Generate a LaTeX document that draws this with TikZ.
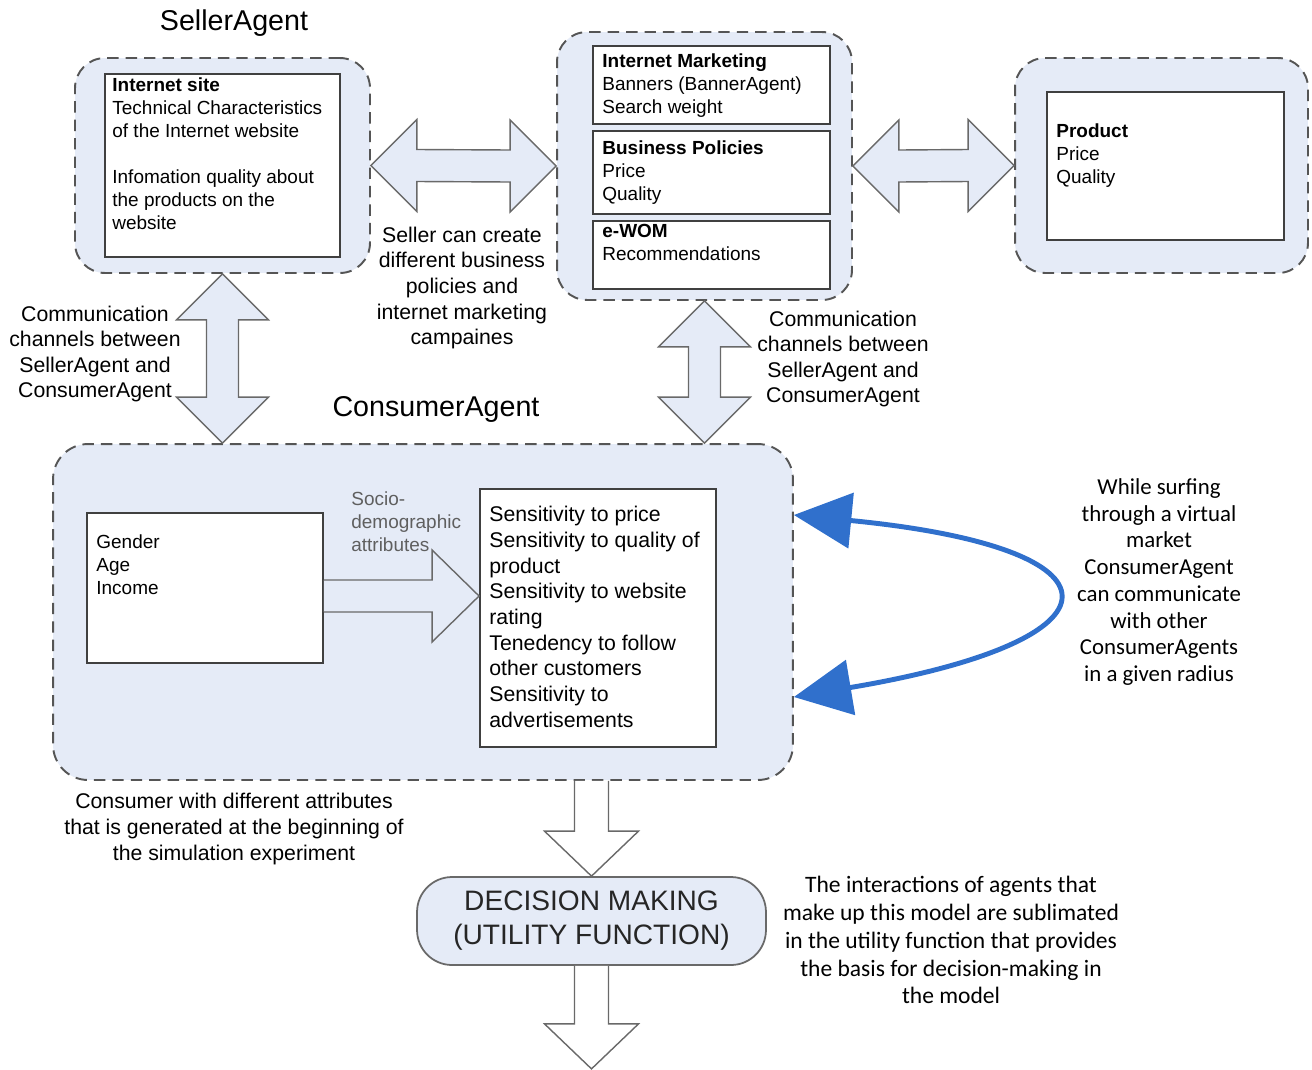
\documentclass[tikz,border=0pt]{standalone}
\usepackage{fontspec}
\setmainfont{Liberation Sans}
\newfontfamily\calibri{Carlito}
\usetikzlibrary{positioning,calc,arrows.meta}

\definecolor{paleblue}{RGB}{229,235,247}
\definecolor{boxgray}{RGB}{64,64,64}
\definecolor{dashgray}{RGB}{85,85,85}
\definecolor{arrowgray}{RGB}{105,105,105}
\definecolor{surfblue}{RGB}{48,112,204}
\definecolor{sociogray}{RGB}{95,95,95}

\tikzset{
  grp/.style={rectangle, rounded corners=0.6cm, draw=dashgray, line width=1.1pt, dash pattern=on 6.5pt off 4pt, fill=paleblue, inner sep=0pt},
  box/.style={rectangle, draw=boxgray, line width=1.1pt, fill=white, inner sep=0pt},
  txt/.style={inner sep=0pt, anchor=north west, align=left, font=\fontsize{10.8}{13.1}\selectfont},
  captxt/.style={inner sep=0pt, align=center, font=\fontsize{12.1}{14.6}\selectfont},
  ttl/.style={inner sep=0pt, font=\fontsize{16.3}{19}\selectfont},
  blk/.style={draw=arrowgray, line width=0.8pt, fill=paleblue, line join=miter},
  blkw/.style={blk, fill=white},
  dm/.style={rectangle, rounded corners=0.7cm, draw=arrowgray, line width=1pt, fill=paleblue, align=center, text=black!85, font=\fontsize{16}{19.4}\selectfont},
  note/.style={inner sep=0pt, align=center},
  surf/.style={draw=surfblue, line width=2.8pt, arrows={Triangle[length=1.15cm,width=1.1cm]-Triangle[length=1.15cm,width=1.1cm]}}
}

% double block arrows: tip to tip
\newcommand{\hdouble}[2]{\draw[blk] (#1) -- ($(#1)+(46,-46)$) -- ($(#1)+(46,-16)$) -- ($(#2)+(-46,-16)$) -- ($(#2)+(-46,-46)$) -- (#2) -- ($(#2)+(-46,46)$) -- ($(#2)+(-46,16)$) -- ($(#1)+(46,16)$) -- ($(#1)+(46,46)$) -- cycle;}
\newcommand{\vdouble}[2]{\draw[blk] (#1) -- ($(#1)+(46,46)$) -- ($(#1)+(16,46)$) -- ($(#2)+(16,-46)$) -- ($(#2)+(46,-46)$) -- (#2) -- ($(#2)+(-46,-46)$) -- ($(#2)+(-16,-46)$) -- ($(#1)+(-16,46)$) -- ($(#1)+(-46,46)$) -- cycle;}
% single block arrow down: tail centre, tip
\newcommand{\vsingle}[2]{\draw[blkw] ($(#1)+(-17,0)$) -- ($(#2)+(-17,-45)$) -- ($(#2)+(-47,-45)$) -- (#2) -- ($(#2)+(47,-45)$) -- ($(#2)+(17,-45)$) -- ($(#1)+(17,0)$);}

\begin{document}
\begin{tikzpicture}[x=0.02cm, y=-0.02cm]
	\useasboundingbox (0,0) rectangle (1312,1069);

	% SellerAgent
	\node[ttl] (sellerttl) at (234,23) {SellerAgent};
	\node[grp, minimum width=5.9cm, minimum height=4.3cm] (site) at (222.5,165.5) {};
	\node[box, minimum width=4.7cm, minimum height=3.66cm] (sitebox) at (site.center) {};
	\node[txt] (sitetxt) at ($(sitebox.north west)+(8,4)$) {\textbf{Internet site}\\Technical Characteristics\\of the Internet website\\[13.1pt]Infomation quality about\\the products on the\\website};

	\node[grp, minimum width=5.9cm, minimum height=5.36cm] (policy) at (704.5,166) {};
	\node[box, minimum width=4.74cm, minimum height=1.56cm] (mkt) at (711.5,85) {};
	\node[box, minimum width=4.74cm, minimum height=1.66cm, below=0.1cm of mkt] (biz) {};
	\node[box, minimum width=4.74cm, minimum height=1.36cm, below=0.1cm of biz] (wom) {};
	\node[txt] (mkttxt) at ($(mkt.north west)+(10,8)$) {\textbf{Internet Marketing}\\Banners (BannerAgent)\\Search weight};
	\node[txt] (biztxt) at ($(biz.north west)+(10,10)$) {\textbf{Business Policies}\\Price\\Quality};
	\node[txt] (womtxt) at ($(wom.north west)+(10,4)$) {\textbf{e-WOM}\\Recommendations};

	\node[grp, minimum width=5.86cm, minimum height=4.3cm] (prod) at (1161.5,165.5) {};
	\node[box, minimum width=4.74cm, minimum height=2.96cm] (prodbox) at (1165.5,166) {};
	\node[txt] (prodtxt) at ($(prodbox.north west)+(10,32)$) {\textbf{Product}\\Price\\Quality};

	\node[captxt] (sellercan) at (462,288) {Seller can create\\different business\\policies and\\internet marketing\\campaines};

	% ConsumerAgent
	\node[ttl] (consttl) at (436,409) {ConsumerAgent};
	\node[grp, rounded corners=0.7cm, minimum width=14.8cm, minimum height=6.72cm] (consumer) at (423,612) {};
	\node[box, minimum width=4.72cm, minimum height=3.0cm] (gender) at (205,588) {};
	\node[txt] (gendertxt) at ($(gender.north west)+(10,22)$) {Gender\\Age\\Income};
	\node[box, minimum width=4.72cm, minimum height=5.16cm] (sens) at (598,618) {};
	\node[txt, font=\fontsize{12.1}{14.6}\selectfont] (senstxt) at ($(sens.north west)+(10,18)$) {Sensitivity to price\\Sensitivity to quality of\\product\\Sensitivity to website\\rating\\Tenedency to follow\\other customers\\Sensitivity to\\advertisements};
	\node[txt, text=sociogray] (sociotxt) at (351,491) {Socio-\\demographic\\attributes};

	\coordinate (sockA) at ($(gender.east)+(0,8)$);
	\coordinate (sockB) at (sens.west |- sockA);
	\draw[blk] ($(sockA)+(0,-16)$) -- ($(sockB)+(-47,-16)$) -- ($(sockB)+(-47,-46)$) -- (sockB) -- ($(sockB)+(-47,46)$) -- ($(sockB)+(-47,16)$) -- ($(sockA)+(0,16)$);

	% channels
	\hdouble{site.east}{policy.west}
	\hdouble{policy.east}{prod.west}
	\vdouble{site.south}{site.south |- consumer.north}
	\vdouble{policy.south}{policy.south |- consumer.north}
	\node[captxt] (commL) at (95,354) {Communication\\channels between\\SellerAgent and\\ConsumerAgent};
	\node[captxt] (commR) at (843,359) {Communication\\channels between\\SellerAgent and\\ConsumerAgent};

	% surfing
	\coordinate (ctop) at ($(consumer.east)+(0,-97)$);
	\coordinate (cbot) at ($(consumer.east)+(0,85)$);
	\draw[surf] (ctop) .. controls (1133,548) and (1133,640) .. (cbot);
	\node[note, font=\calibri\fontsize{13}{15.2}\selectfont] (surftxt) at (1159,582) {While surfing\\through a virtual\\market\\ConsumerAgent\\can communicate\\with other\\ConsumerAgents\\in a given radius};

	\node[captxt] (constxt) at (234,829) {Consumer with different attributes\\that is generated at the beginning of\\the simulation experiment};

	% decision
	\node[dm, minimum width=6.98cm, minimum height=1.76cm] (decision) at (591.5,921) {DECISION MAKING\\(UTILITY FUNCTION)};
	\vsingle{decision.north |- consumer.south}{decision.north}
	\coordinate (dmout) at ($(decision.south)+(0,103)$);
	\vsingle{decision.south}{dmout}
	\node[note, font=\calibri\fontsize{13.4}{15.9}\selectfont] (interact) at (951,940) {The interactions of agents that\\make up this model are sublimated\\in the utility function that provides\\the basis for decision-making in\\the model};
\end{tikzpicture}
\end{document}
